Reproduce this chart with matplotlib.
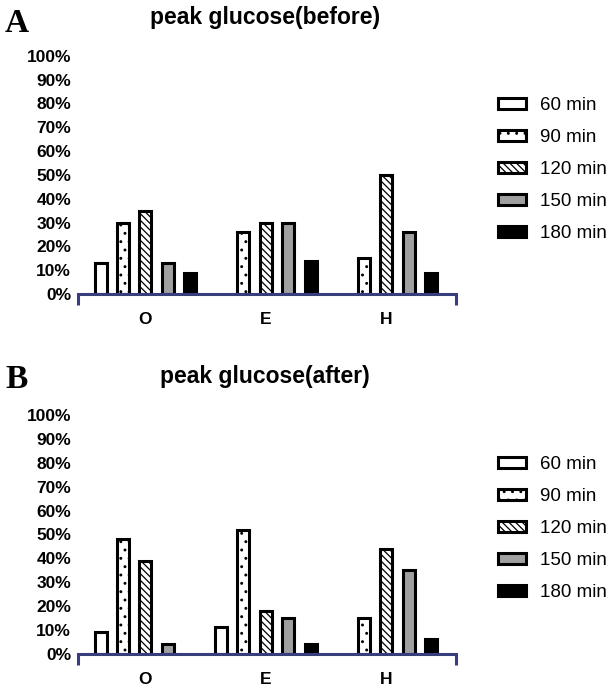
"""Peak glucose timing, before and after: grouped hatched bars for O / E / H."""

import matplotlib

matplotlib.use("Agg")
import matplotlib.pyplot as plt
import numpy as np
from matplotlib.patches import Patch

plt.rcParams["font.family"] = ["Liberation Sans", "DejaVu Sans"]
plt.rcParams["hatch.linewidth"] = 0.9

GROUPS = ["O", "E", "H"]
TIMES = ["60 min", "90 min", "120 min", "150 min", "180 min"]
Y_TICKS = [0, 10, 20, 30, 40, 50, 60, 70, 80, 90, 100]

# percentage of subjects whose glucose peaked at each time point
BEFORE_60 = [13, 0, 0]
BEFORE_90 = [30, 26, 15]
BEFORE_120 = [35, 30, 50]
BEFORE_150 = [13, 30, 26]
BEFORE_180 = [9, 14, 9]

AFTER_60 = [9, 11, 0]
AFTER_90 = [48, 52, 15]
AFTER_120 = [39, 18, 44]
AFTER_150 = [4, 15, 35]
AFTER_180 = [0, 4, 6]

BEFORE = [BEFORE_60, BEFORE_90, BEFORE_120, BEFORE_150, BEFORE_180]
AFTER = [AFTER_60, AFTER_90, AFTER_120, AFTER_150, AFTER_180]

FILLS = ["white", "white", "white", "#a0a0a0", "black"]
HATCHES = [None, "..", "\\\\\\\\\\", None, None]
AXIS_COLOR = "#383d7e"
EDGE_LW = 2.2
XLIM = (-0.56, 2.58)

W, H = 613, 688
fig = plt.figure(figsize=(W / 100, H / 100), dpi=100)


def draw_panel(top_px, zero_px, series, title, letter, title_base_px, letter_base_px, legend_top_px):
    ax = fig.add_axes([78 / W, 1 - zero_px / H, 378 / W, (zero_px - top_px) / H])
    x = np.arange(len(GROUPS))
    step, width = 0.186, 0.1
    for i, (vals, fill, hatch) in enumerate(zip(series, FILLS, HATCHES)):
        lw = [EDGE_LW if v > 0 else 0 for v in vals]
        ax.bar(x + (i - 2) * step, vals, width, color=fill, edgecolor="black",
               hatch=hatch, linewidth=lw)

    ax.set_xlim(*XLIM)
    ax.set_ylim(0, 100)
    ax.set_yticks(Y_TICKS, [f"{v}%" for v in Y_TICKS], fontweight="bold", fontsize=12.5)
    ax.tick_params(axis="y", length=0, pad=5)
    ax.set_xticks(x, GROUPS, fontweight="bold", fontsize=12.5)
    ax.tick_params(axis="x", which="major", length=0, pad=13)
    ax.set_xticks(list(XLIM), minor=True)
    ax.tick_params(axis="x", which="minor", length=8, width=EDGE_LW, color=AXIS_COLOR, direction="out")
    for side in ("top", "right", "left"):
        ax.spines[side].set_visible(False)
    ax.spines["bottom"].set_color(AXIS_COLOR)
    ax.spines["bottom"].set_linewidth(EDGE_LW)

    fig.text(265 / W, 1 - title_base_px / H, title, ha="center", va="baseline",
             fontsize=16.5, fontweight="bold")
    fig.text(5 / W, 1 - letter_base_px / H, letter, ha="left", va="baseline",
             fontsize=24, fontweight="bold", family=["Liberation Serif", "DejaVu Serif"])

    handles = [Patch(facecolor=f, edgecolor="black", hatch=h, linewidth=EDGE_LW, label=t)
               for f, h, t in zip(FILLS, HATCHES, TIMES)]
    fig.legend(handles=handles, loc="upper left", bbox_to_anchor=(498 / W, 1 - legend_top_px / H),
               frameon=False, fontsize=13.5, handlelength=1.5, handleheight=0.48,
               handletextpad=0.75, labelspacing=0.8, borderpad=0, borderaxespad=0)
    return ax


draw_panel(55.7, 294, BEFORE, "peak glucose(before)", "A", 24, 31.7, 97)
draw_panel(415.3, 653.5, AFTER, "peak glucose(after)", "B", 383, 388, 456)

fig.savefig("out.png", dpi=100)
